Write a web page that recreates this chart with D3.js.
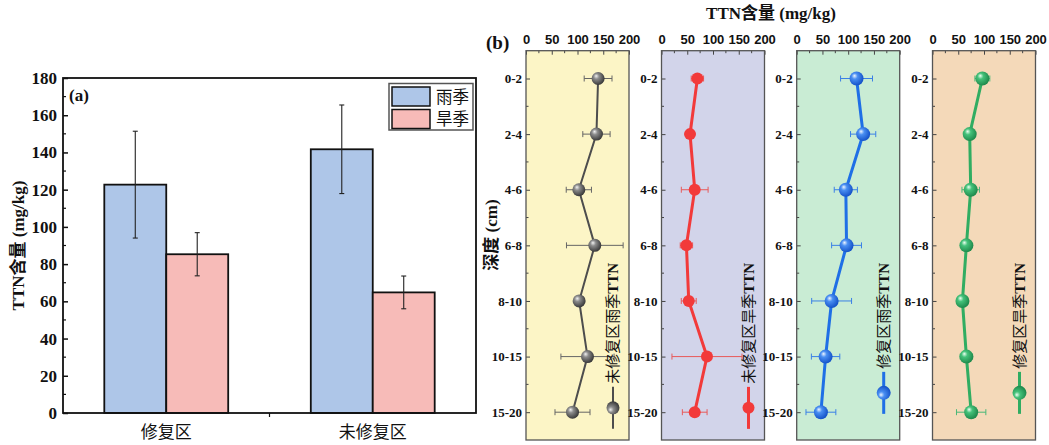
<!DOCTYPE html>
<html>
<head>
<meta charset="utf-8">
<script src="https://cdn.jsdelivr.net/npm/d3@7"></script>
<style>
  html, body { margin: 0; padding: 0; background: #fff; }
  svg { display: block; }
</style>
</head>
<body>
<svg id="chart" width="1049" height="445"></svg>
<script>
// ---- (a) mean TTN by area and season ----
const regions = ["修复区", "未修复区"];
const seasons = ["雨季", "旱季"];
const rainMean = [122.7, 141.7];
const rainErr = [28.7, 23.8];
const dryMean = [85.3, 64.8];
const dryErr = [11.6, 8.8];
const barTicks = [0, 20, 40, 60, 80, 100, 120, 140, 160, 180];

// ---- (b) TTN profiles by depth ----
const depths = ["0-2", "2-4", "4-6", "6-8", "8-10", "10-15", "15-20"];
const profileTicks = [0, 50, 100, 150, 200];
const unRainTTN = [140, 136.8, 102.6, 133.6, 103.2, 119.4, 90.3];
const unRainErr = [27, 26.5, 24.5, 55, 8, 51.6, 34];
const unDryTTN = [69.7, 55.4, 64.5, 48.4, 52.9, 88.3, 64.5];
const unDryErr = [12, 8, 26, 12, 14.5, 68, 24];
const reRainTTN = [116.2, 129, 95.4, 96.8, 67.8, 56.1, 47];
const reRainErr = [31, 24.5, 22.5, 29, 38.7, 27.6, 29];
const reDryTTN = [96.8, 72.2, 74.2, 65.8, 58.1, 65.8, 75.1];
const reDryErr = [14.5, 5, 17, 5, 5, 12, 28.5];
const profileNames = ["未修复区雨季", "未修复区旱季", "修复区雨季", "修复区旱季"];

const svg = d3.select("#chart");
const serif = "'Liberation Serif', 'Times New Roman', 'Noto Sans CJK SC', serif";
const cjk = "'Noto Sans CJK SC', sans-serif";
const sans = "'Liberation Sans', Arial, sans-serif";

// ================= Panel (a) =================
const A = { left: 63, right: 476, top: 78, bottom: 413 };
const xA = d3.scaleLinear().domain([0.5, 2.5]).range([A.left, A.right]);
const yA = d3.scaleLinear().domain([0, 180]).range([A.bottom, A.top]);
const barW = 0.3;
const barColors = ["#aec6e8", "#f7bbb8"];

const gA = svg.append("g");

const barData = [];
regions.forEach((r, i) => {
  barData.push({ c: i + 1, off: -barW, v: rainMean[i], e: rainErr[i], col: barColors[0] });
  barData.push({ c: i + 1, off: 0, v: dryMean[i], e: dryErr[i], col: barColors[1] });
});

gA.selectAll("rect.bar").data(barData).join("rect")
  .attr("class", "bar")
  .attr("x", d => xA(d.c + d.off))
  .attr("width", d => xA(d.c + d.off + barW) - xA(d.c + d.off))
  .attr("y", d => yA(d.v))
  .attr("height", d => yA(0) - yA(d.v))
  .attr("fill", d => d.col)
  .attr("stroke", "#111")
  .attr("stroke-width", 1.8);

// error bars
const ebA = gA.selectAll("g.eb").data(barData).join("g").attr("class", "eb");
ebA.append("line")
  .attr("x1", d => xA(d.c + d.off + barW / 2)).attr("x2", d => xA(d.c + d.off + barW / 2))
  .attr("y1", d => yA(d.v + d.e)).attr("y2", d => yA(d.v - d.e))
  .attr("stroke", "#222").attr("stroke-width", 1.1);
ebA.selectAll("line.cap").data(d => [d.v + d.e, d.v - d.e].map(v => ({ x: xA(d.c + d.off + barW / 2), y: yA(v) })))
  .join("line").attr("class", "cap")
  .attr("x1", d => d.x - 2.5).attr("x2", d => d.x + 2.5)
  .attr("y1", d => d.y).attr("y2", d => d.y)
  .attr("stroke", "#222").attr("stroke-width", 1.1);

// frame
gA.append("rect")
  .attr("x", A.left).attr("y", A.top)
  .attr("width", A.right - A.left).attr("height", A.bottom - A.top)
  .attr("fill", "none").attr("stroke", "#111").attr("stroke-width", 1.8);

// y axis (ticks inward)
const yAxisA = d3.axisLeft(yA).tickValues(barTicks).tickSize(-5).tickPadding(6).tickFormat(d3.format("d"));
const yAx = gA.append("g").attr("transform", `translate(${A.left},0)`).call(yAxisA);
yAx.select(".domain").remove();
yAx.selectAll(".tick line").attr("stroke", "#111").attr("stroke-width", 1.5);
yAx.selectAll(".tick text")
  .attr("font-family", serif).attr("font-weight", "bold").attr("font-size", 17).attr("fill", "#111");
gA.append("g").selectAll("line").data(d3.range(10, 180, 20)).join("line")
  .attr("x1", A.left).attr("x2", A.left + 3)
  .attr("y1", d => yA(d)).attr("y2", d => yA(d))
  .attr("stroke", "#111").attr("stroke-width", 1.2);

// x axis category labels and minor tick
gA.selectAll("text.cat").data(regions).join("text")
  .attr("class", "cat")
  .attr("x", (d, i) => xA(i + 1)).attr("y", 438)
  .attr("text-anchor", "middle")
  .attr("font-family", cjk).attr("font-size", 17).attr("fill", "#111")
  .text(d => d);
gA.append("line")
  .attr("x1", xA(1.5)).attr("x2", xA(1.5))
  .attr("y1", A.bottom).attr("y2", A.bottom + 4)
  .attr("stroke", "#111").attr("stroke-width", 1.2);

// y title
gA.append("text")
  .attr("transform", `translate(24,${(A.top + A.bottom) / 2 + 0}) rotate(-90)`)
  .attr("text-anchor", "middle")
  .attr("font-family", serif).attr("font-weight", "bold").attr("font-size", 17).attr("fill", "#111")
  .text("TTN含量 (mg/kg)");

gA.append("text")
  .attr("x", 69).attr("y", 101)
  .attr("font-family", serif).attr("font-weight", "bold").attr("font-size", 17).attr("fill", "#111")
  .text("(a)");

// legend
const lg = gA.append("g");
lg.append("rect").attr("x", 389).attr("y", 83.5).attr("width", 84).attr("height", 46.5)
  .attr("fill", "#fff").attr("stroke", "#555").attr("stroke-width", 1.5);
seasons.forEach((s, i) => {
  lg.append("rect").attr("x", 392).attr("y", 87 + i * 22.5).attr("width", 38).attr("height", 19)
    .attr("fill", barColors[i]).attr("stroke", "#111").attr("stroke-width", 1.5);
  lg.append("text").attr("x", 436).attr("y", 103 + i * 22)
    .attr("font-family", cjk).attr("font-size", 16.5).attr("fill", "#111").text(s);
});

// ================= Panel (b) =================
const B = { top: 50.7, bottom: 440, width: 103 };
const panelLefts = [526, 661.5, 796.7, 932.5];
const panelBg = ["#fcf5c6", "#d2d4ea", "#c9ecd4", "#f4d9b9"];
const lineCol = ["#4d4d4d", "#f23a3a", "#1f6fe6", "#30ad62"];
const errCol = ["#666", "#e85a5a", "#3b80e6", "#49b878"];
const lineW = [2, 3, 3, 3];
const markR = [6.5, 6, 7, 7];
const sphere = [true, false, true, true];
const gradStops = [
  ["#f2f2f2", "#8c8c8c", "#3a3a3a"],
  null,
  ["#eef5ff", "#4a8ff2", "#1553c9"],
  ["#eefff2", "#45c27a", "#1f8a4c"]
];
const series = [
  { v: unRainTTN, e: unRainErr },
  { v: unDryTTN, e: unDryErr },
  { v: reRainTTN, e: reRainErr },
  { v: reDryTTN, e: reDryErr }
];

const defs = svg.append("defs");
gradStops.forEach((st, i) => {
  if (!st) return;
  const g = defs.append("radialGradient").attr("id", "sph" + i)
    .attr("cx", "40%").attr("cy", "40%").attr("r", "60%").attr("fx", "35%").attr("fy", "30%");
  g.append("stop").attr("offset", "0%").attr("stop-color", st[0]);
  g.append("stop").attr("offset", "35%").attr("stop-color", st[1]);
  g.append("stop").attr("offset", "100%").attr("stop-color", st[2]);
});

const yB = d3.scalePoint().domain(depths).range([B.top, B.bottom]).padding(0.5);
const stepB = yB.step();

series.forEach((s, p) => {
  const L = panelLefts[p];
  const xB = d3.scaleLinear().domain([0, 200]).range([L, L + B.width]);
  const g = svg.append("g");
  const fillOf = sphere[p] ? `url(#sph${p})` : lineCol[p];

  g.append("rect").attr("x", L).attr("y", B.top).attr("width", B.width).attr("height", B.bottom - B.top)
    .attr("fill", panelBg[p]);

  // top axis
  const ax = g.append("g").attr("transform", `translate(0,${B.top})`)
    .call(d3.axisTop(xB).tickValues(profileTicks).tickSize(-4).tickPadding(7));
  ax.select(".domain").remove();
  ax.selectAll(".tick line").attr("stroke", "#444").attr("stroke-width", 1);
  ax.selectAll(".tick text").attr("font-family", sans).attr("font-weight", "bold")
    .attr("font-size", 13).attr("fill", "#111");
  g.append("g").selectAll("line").data([25, 75, 125, 175]).join("line")
    .attr("x1", d => xB(d)).attr("x2", d => xB(d))
    .attr("y1", B.top).attr("y2", B.top + 2.5)
    .attr("stroke", "#444").attr("stroke-width", 1);

  // left axis
  const ay = g.append("g").attr("transform", `translate(${L},0)`)
    .call(d3.axisLeft(yB).tickSize(-4).tickPadding(4));
  ay.select(".domain").remove();
  ay.selectAll(".tick line").attr("stroke", "#444").attr("stroke-width", 1);
  ay.selectAll(".tick text").attr("font-family", serif).attr("font-weight", "bold")
    .attr("font-size", 13).attr("fill", "#111");
  g.append("g").selectAll("line").data(depths.slice(0, -1)).join("line")
    .attr("x1", L).attr("x2", L + 2.5)
    .attr("y1", d => yB(d) + stepB / 2).attr("y2", d => yB(d) + stepB / 2)
    .attr("stroke", "#444").attr("stroke-width", 1);

  // error bars
  const pts = depths.map((d, i) => ({ d, v: s.v[i], e: s.e[i] }));
  const eb = g.append("g");
  pts.forEach(pt => {
    const y = yB(pt.d);
    eb.append("line").attr("x1", xB(pt.v - pt.e)).attr("x2", xB(pt.v + pt.e))
      .attr("y1", y).attr("y2", y).attr("stroke", errCol[p]).attr("stroke-width", 1);
    [pt.v - pt.e, pt.v + pt.e].forEach(v => {
      eb.append("line").attr("x1", xB(v)).attr("x2", xB(v))
        .attr("y1", y - 3).attr("y2", y + 3).attr("stroke", errCol[p]).attr("stroke-width", 1);
    });
  });

  // profile line
  g.append("path").datum(pts)
    .attr("d", d3.line().x(d => xB(d.v)).y(d => yB(d.d)))
    .attr("fill", "none").attr("stroke", lineCol[p]).attr("stroke-width", lineW[p]);

  g.append("g").selectAll("circle").data(pts).join("circle")
    .attr("cx", d => xB(d.v)).attr("cy", d => yB(d.d)).attr("r", markR[p])
    .attr("fill", fillOf);

  // frame
  g.append("rect").attr("x", L).attr("y", B.top).attr("width", B.width).attr("height", B.bottom - B.top)
    .attr("fill", "none").attr("stroke", "#555").attr("stroke-width", 1.3);

  // vertical legend
  const lgx = L + B.width - 16;
  const lgB = g.append("g").attr("transform", `translate(${lgx},263) rotate(-90)`);
  const t = lgB.append("text").attr("text-anchor", "end").attr("dy", "0.36em")
    .attr("font-size", 15).attr("fill", "#111");
  t.append("tspan").attr("font-family", cjk).text(profileNames[p]);
  t.append("tspan").attr("font-family", serif).attr("font-weight", "bold").text("TTN");
  const tl = t.node().getComputedTextLength();
  const x0 = -(tl + 3), x1 = -(tl + 45);
  lgB.append("line").attr("x1", x0).attr("x2", x1).attr("y1", 0).attr("y2", 0)
    .attr("stroke", lineCol[p]).attr("stroke-width", lineW[p]);
  lgB.append("circle").attr("cx", (x0 + x1) / 2).attr("cy", 0).attr("r", markR[p]).attr("fill", fillOf);
});

// panel (b) titles
svg.append("text").attr("x", 771).attr("y", 19).attr("text-anchor", "middle")
  .attr("font-family", serif).attr("font-weight", "bold").attr("font-size", 17).attr("fill", "#111")
  .text("TTN含量 (mg/kg)");
svg.append("text").attr("x", 486).attr("y", 49)
  .attr("font-family", serif).attr("font-weight", "bold").attr("font-size", 19).attr("fill", "#111")
  .text("(b)");
svg.append("text")
  .attr("transform", `translate(497,235) rotate(-90)`)
  .attr("text-anchor", "middle")
  .attr("font-family", serif).attr("font-weight", "bold").attr("font-size", 17).attr("fill", "#111")
  .text("深度 (cm)");
</script>
</body>
</html>
